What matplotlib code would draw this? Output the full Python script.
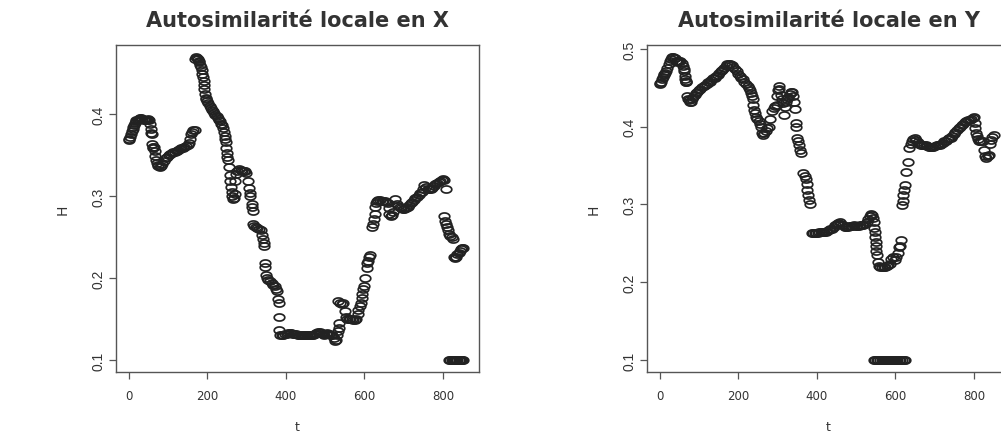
import numpy as np
import matplotlib
matplotlib.use("Agg")
import matplotlib.pyplot as plt
from matplotlib.path import Path

# --- data (t, H) ---
# panel X
tx_a = [0, 2, 4, 6, 8, 10, 12, 14, 16, 18, 20, 23, 26, 29, 32, 35, 38, 41, 44, 47,
        50, 53, 55, 56, 57, 59, 60, 61, 62, 64, 66, 68, 70, 72, 74, 76, 79, 82, 86, 90,
        94, 98, 102, 106, 110, 114, 118, 122, 126, 130, 134, 138, 142, 146, 150, 154,
        157, 160, 162, 165, 168]
hx_a = [.368, .369, .372, .376, .379, .381, .384, .387, .389, .391, .392, .393, .394, .395,
        .395, .394, .393, .392, .392, .393, .394, .392, .388, .381, .377, .375, .363, .360,
        .358, .360, .355, .349, .344, .340, .338, .336, .335, .336, .339, .343, .346, .348,
        .350, .351, .352, .353, .354, .355, .356, .357, .358, .359, .360, .361, .362, .365,
        .370, .375, .378, .380, .380]
tx_b = [170, 172, 174, 176, 178, 180, 182, 184, 186, 188, 190, 191, 192, 193, 194, 196,
        198, 200, 203, 206, 209, 212, 215, 218, 221, 224, 227, 230, 233, 236, 239, 241,
        243, 245, 246, 247, 249, 250, 251, 253, 255, 257, 259, 261, 262, 264, 266, 268,
        270, 272, 274, 277, 281, 285, 289, 293, 297, 300, 303, 306, 308, 310, 313, 315,
        317, 316, 320, 324, 328, 332, 336, 339, 342, 344, 345, 346, 347, 349, 352, 356,
        360, 364, 368, 372, 376, 379, 381, 382, 383, 384]
hx_b = [.467, .469, .468, .467, .465, .463, .460, .457, .453, .449, .445, .440, .435, .430,
        .424, .420, .418, .416, .413, .410, .407, .405, .403, .401, .399, .397, .395, .393,
        .391, .388, .386, .383, .378, .373, .369, .366, .358, .352, .348, .344, .335, .325,
        .318, .311, .305, .300, .296, .297, .302, .318, .327, .331, .333, .332, .331, .331,
        .330, .328, .318, .310, .304, .300, .290, .286, .282, .266, .263, .262, .261, .260,
        .258, .253, .248, .243, .239, .218, .214, .204, .200, .198, .196, .194, .192, .190,
        .187, .184, .174, .170, .152, .136]
tx_c = [386, 390, 394, 398, 402, 406, 410, 414, 418, 422, 426, 430, 434, 438, 442, 446,
        450, 454, 458, 462, 466, 470, 474, 478, 482, 486, 490, 494, 498, 502, 506, 510,
        514, 518, 522, 525, 528, 531, 533, 535, 536, 534, 538, 542, 546, 550, 553, 556,
        560, 564, 568, 572, 576, 580, 583, 585, 588, 591, 593, 595, 597, 600, 603, 606,
        608, 610, 613, 615]
hx_c = [.131, .130, .131, .132, .132, .133, .133, .133, .132, .132, .132, .131, .131, .131,
        .130, .130, .131, .130, .130, .130, .131, .131, .132, .133, .134, .134, .133, .132,
        .131, .132, .133, .132, .131, .130, .127, .123, .124, .130, .135, .139, .145, .172,
        .170, .168, .170, .160, .153, .150, .150, .150, .150, .149, .149, .150, .156, .161,
        .166, .170, .176, .181, .186, .190, .200, .212, .218, .221, .225, .228]
tx_d = [620, 622, 624, 626, 628, 630, 633, 636, 640, 644, 648, 652, 656, 660, 662, 664,
        667, 670, 674, 678, 682, 686, 690, 694, 698, 702, 706, 710, 714, 718, 722, 726,
        730, 734, 738, 742, 746, 750, 753, 757, 761, 765, 769, 773, 777, 781, 785, 789,
        793, 797, 801, 804, 807]
hx_d = [.262, .266, .272, .278, .286, .292, .294, .295, .295, .294, .294, .294, .293, .292,
        .285, .278, .276, .277, .280, .296, .290, .288, .287, .285, .284, .284, .285, .287,
        .289, .291, .293, .295, .297, .299, .301, .303, .305, .308, .313, .311, .309, .309,
        .309, .310, .312, .314, .316, .317, .318, .320, .321, .320, .309]
tx_e = [803, 806, 808, 810, 813, 816, 819, 822, 825, 828, 831, 834, 837, 840, 843, 846, 849, 852]
hx_e = [.275, .270, .266, .262, .258, .254, .251, .250, .248, .226, .224, .226, .229, .231,
        .233, .235, .236, .237]
tx_floor = [816, 819, 822, 825, 828, 831, 834, 837, 840, 843, 846, 849, 852]
hx_floor = [0.1] * len(tx_floor)

# panel Y
ty_a = [0, 2, 4, 6, 8, 10, 12, 14, 17, 20, 23, 26, 29, 32, 35, 38, 41, 44, 47, 50,
        53, 56, 59, 61, 62, 64, 65, 66, 67, 68, 70, 72, 74, 77, 80, 83, 86, 89, 92, 96,
        100, 104, 108, 112, 116, 120, 124, 128, 132, 136, 140, 144, 148, 152, 156, 160,
        164, 168, 172, 176, 180, 184, 188, 192, 196, 200, 204, 208, 212, 216, 220, 224,
        227, 230, 233, 235, 237, 239, 240, 242, 245, 248, 252, 256, 259, 261, 263, 266,
        270, 274, 278, 282, 286, 290, 294, 298, 300, 302, 303, 305, 308, 311, 314, 316,
        319, 322, 325, 328, 331, 334, 337, 340, 342, 344, 346, 347, 349, 352, 355, 358,
        360, 366, 369, 372, 374, 376, 378, 380, 382]
hy_a = [.455, .456, .458, .461, .464, .466, .468, .469, .472, .475, .480, .484, .487, .489,
        .490, .488, .485, .483, .484, .485, .484, .482, .478, .474, .471, .465, .461, .459,
        .458, .457, .440, .436, .434, .432, .432, .435, .438, .441, .443, .445, .447, .449,
        .451, .452, .454, .455, .457, .458, .460, .462, .463, .465, .467, .469, .471, .473,
        .475, .478, .481, .481, .480, .479, .477, .474, .471, .468, .465, .463, .461, .458,
        .455, .452, .450, .447, .443, .439, .435, .428, .421, .417, .413, .410, .407, .404,
        .399, .392, .389, .392, .395, .398, .400, .410, .420, .424, .426, .428, .440, .447,
        .452, .448, .441, .436, .430, .415, .425, .432, .435, .438, .442, .445, .445, .440,
        .432, .423, .405, .400, .385, .382, .376, .370, .366, .340, .337, .333, .326, .319,
        .312, .306, .301]
ty_b = [387, 391, 395, 399, 403, 407, 411, 415, 419, 423, 427, 431, 435, 439, 443, 447,
        451, 455, 459, 463, 467, 471, 475, 479, 483, 487, 491, 495, 499, 503, 507, 511,
        515, 519, 523, 527, 531, 535, 538, 541, 544, 546, 547, 548, 549, 550, 551, 552,
        553, 555, 558, 562, 566, 570, 574, 578, 582, 586, 590, 594, 598, 602, 606, 610,
        612, 615, 618, 619, 620, 622, 624, 628, 632]
hy_b = [.263, .263, .263, .263, .263, .264, .264, .264, .265, .265, .266, .267, .268, .269,
        .271, .273, .275, .276, .277, .275, .273, .271, .271, .271, .272, .272, .272, .273,
        .272, .272, .272, .273, .274, .274, .275, .277, .281, .285, .288, .287, .283, .277,
        .270, .264, .258, .252, .246, .240, .235, .226, .221, .219, .219, .219, .220, .221,
        .222, .224, .230, .232, .228, .232, .238, .245, .247, .254, .299, .305, .312, .318,
        .325, .342, .355]
ty_c = [636, 639, 642, 645, 649, 653, 657, 661, 665, 669, 673, 677, 681, 685, 689, 693,
        697, 701, 705, 709, 713, 717, 721, 725, 729, 733, 737, 741, 745, 749, 753, 757,
        761, 765, 769, 773, 777, 781, 785, 789, 793, 797, 800, 802, 804, 806, 808, 810,
        813, 816, 819, 822, 826, 829, 832, 835, 838, 841, 844, 847, 850]
hy_c = [.372, .378, .382, .384, .385, .383, .380, .378, .377, .376, .376, .376, .375, .374,
        .374, .374, .374, .375, .376, .376, .377, .378, .379, .381, .382, .384, .385, .386,
        .388, .391, .393, .396, .398, .400, .402, .404, .406, .407, .408, .409, .410, .411,
        .412, .405, .398, .392, .388, .384, .382, .381, .381, .382, .370, .362, .360, .362,
        .363, .378, .383, .387, .389]
ty_floor = [545, 549, 553, 557, 561, 565, 569, 573, 577, 581, 585, 589, 593, 597, 601,
            605, 609, 613, 617, 621, 625]
hy_floor = [0.1] * len(ty_floor)

t_x = tx_a + tx_b + tx_c + tx_d + tx_e + tx_floor
h_x = hx_a + hx_b + hx_c + hx_d + hx_e + hx_floor
t_y = ty_a + ty_b + ty_c + ty_floor
h_y = hy_a + hy_b + hy_c + hy_floor

titles = ["Autosimilarité locale en X", "Autosimilarité locale en Y"]
xticks = [0, 200, 400, 600, 800]
yticks_x = [0.1, 0.2, 0.3, 0.4]
yticks_y = [0.1, 0.2, 0.3, 0.4, 0.5]

# --- figure ---
W, H = 1001, 435
fig = plt.figure(figsize=(W / 100, H / 100), dpi=100)

# squashed open circle, like the reference
th = np.linspace(0, 2 * np.pi, 41)
ring = Path(np.column_stack([np.cos(th), 0.67 * np.sin(th)]), closed=True)


def px_axes(left, top, right, bottom):
    return fig.add_axes([left / W, 1 - bottom / H, (right - left) / W, (bottom - top) / H])


panels = [
    (px_axes(116, 46, 479, 373), t_x, h_x, yticks_x, (0.0854, 0.484), titles[0]),
    (px_axes(647, 46, 1010, 373), t_y, h_y, yticks_y, (0.0846, 0.505), titles[1]),
]

for ax, t, h, yt, ylim, title in panels:
    ax.plot(t, h, linestyle="none", marker=ring, ms=7.6, mfc="none",
            mec="#222222", mew=1.25)
    ax.set_xlim(-32, 892)
    ax.set_ylim(*ylim)
    ax.set_xticks(xticks)
    ax.set_yticks(yt)
    ax.set_yticklabels([f"{v:.1f}" for v in yt])
    for s in ax.spines.values():
        s.set_color("#555555")
        s.set_linewidth(1.0)
    ax.tick_params(direction="out", length=5, width=0.9, color="#555555",
                   labelcolor="#333333", labelsize=8.5)
    ax.tick_params(axis="x", pad=7)
    ax.tick_params(axis="y", pad=2.5, labelrotation=90)
    for lab in ax.get_xticklabels():
        lab.set_family("DejaVu Sans")
    for lab in ax.get_yticklabels():
        lab.set_va("center")
        lab.set_family("Liberation Sans")
        lab.set_fontsize(10)
    ax.set_title(title, family="DejaVu Sans", fontweight="bold", fontsize=15,
                 color="#333333", pad=14)
    ax.set_xlabel("t", family="DejaVu Sans", fontsize=9, color="#333333", labelpad=13)
    ax.set_ylabel("H", family="DejaVu Sans", fontsize=10, color="#333333", labelpad=16)

fig.savefig("out.png", dpi=100)
